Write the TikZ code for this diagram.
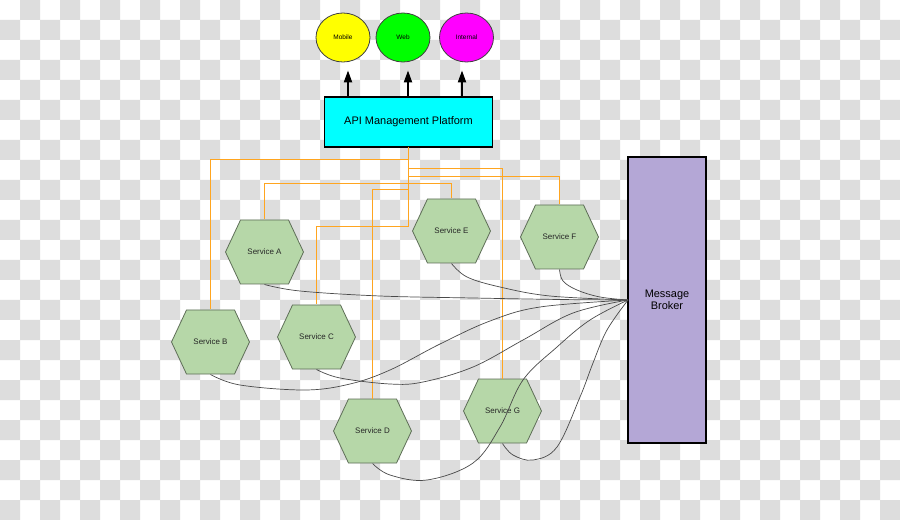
\documentclass[tikz,border=0pt]{standalone}
\usepackage{fontspec}
\setmainfont{Liberation Sans}
\usetikzlibrary{arrows.meta,shapes.geometric}
\definecolor{bgray}{HTML}{DDDDDD}
\definecolor{hexfill}{HTML}{B6D7A8}
\definecolor{hexline}{HTML}{5E6E57}
\definecolor{orl}{HTML}{FFA51F}
\definecolor{brokerfill}{HTML}{B4A7D6}
\definecolor{curvec}{HTML}{4A4A4A}
\definecolor{cyanfill}{HTML}{00FFFF}
\definecolor{yellowfill}{HTML}{FFFF00}
\definecolor{greenfill}{HTML}{00FF00}
\definecolor{magentafill}{HTML}{FF00FF}
\begin{document}
\begin{tikzpicture}[x=1bp,y=-1bp,
  svc/.style={minimum width=80bp, minimum height=65bp, inner sep=0pt, outer sep=0pt,
    font=\fontsize{8}{9}\selectfont, text=black!85,
    path picture={\draw[hexline, line width=0.8bp, fill=hexfill]
      ([xshift=-39bp]path picture bounding box.center)
      -- ([xshift=-24bp,yshift=32bp]path picture bounding box.center)
      -- ([xshift=24bp,yshift=32bp]path picture bounding box.center)
      -- ([xshift=39bp]path picture bounding box.center)
      -- ([xshift=24bp,yshift=-32bp]path picture bounding box.center)
      -- ([xshift=-24bp,yshift=-32bp]path picture bounding box.center)
      -- cycle;}},
  client/.style={ellipse, draw=black!75, line width=0.8bp, minimum width=54bp,
    minimum height=49bp, inner sep=0pt, font=\fontsize{6.5}{7}\selectfont},
  boxnode/.style={draw=black, line width=1.6bp, inner sep=0pt, outer sep=0pt},
  arr/.style={line width=2bp, -{Triangle[width=8bp,length=12bp]}, shorten >=8bp},
  orline/.style={draw=orl, line width=1.4bp},
  bus/.style={draw=curvec, line width=0.7bp}
]
\useasboundingbox (0,0) rectangle (900,520);
% transparency checkerboard of the reference
\fill[white] (0,0) rectangle (900,520);
\fill[bgray] \foreach \j in {0,...,25}{
  \foreach \i in {0,...,44}{
    \ifodd\numexpr\i+\j\relax ({\i*20},{\j*20}) rectangle ++(20,20) \fi
  }
};

% clients
\node[client, fill=yellowfill] (mob) at (343,37.5) {Mobile};
\node[client, fill=greenfill] (web) at (403,37.5) {Web};
\node[client, fill=magentafill] (int) at (466.5,37.5) {Internal};

% API platform
\node[boxnode, fill=cyanfill, minimum width=168bp, minimum height=50bp,
  font=\fontsize{11}{13}\selectfont] (api) at (408.5,122) {API Management Platform};

% message broker
\node[boxnode, fill=brokerfill, minimum width=78bp, minimum height=286bp,
  align=center, font=\fontsize{11}{12.5}\selectfont] (br) at (667,300) {Message\\Broker};

% services
\node[svc] (A) at (264.5,252) {Service A};
\node[svc] (E) at (451.5,231) {Service E};
\node[svc] (F) at (559.5,237) {Service F};
\node[svc] (B) at (210.5,342) {Service B};
\node[svc] (C) at (316.5,337) {Service C};
\node[svc] (D) at (372.5,431) {Service D};
\node[svc] (G) at (502.5,411) {Service G};

% arrows to clients
\draw[arr] ([xshift=5bp]mob.south |- api.north) -- ([xshift=5bp]mob.south);
\draw[arr] ([xshift=5bp]web.south |- api.north) -- ([xshift=5bp]web.south);
\draw[arr] ([xshift=-4.5bp]int.south |- api.north) -- ([xshift=-4.5bp]int.south);

% orange API links
\draw[orline] (api.south) -- ++(0,12.5) -| (B.north);
\draw[orline] (api.south) -- ++(0,21.5) -| (G.north);
\draw[orline] (api.south) -- ++(0,29.5) -| (F.north);
\draw[orline] (A.north) |- ([yshift=-36.5bp]api.south) -| (E.north);
\draw[orline] (api.south) -- ++(0,42.5) -| (D.north);
\draw[orline] (api.south) -- ++(0,79.5) -| (C.north);

% message bus curves
\coordinate (bw) at (br.west);
\draw[bus] plot[smooth, tension=0.6] coordinates
  {(A.south) (300,291) (380,296) (473,298) (560,299.5) (bw)};
\draw[bus] plot[smooth, tension=0.6] coordinates
  {(E.south) (467,277) (500,287) (550,296) (bw)};
\draw[bus] plot[smooth, tension=0.6] coordinates
  {(F.south) (563,281) (577,290) (600,297) (bw)};
\draw[bus] plot[smooth, tension=0.6] coordinates
  {(B.south) (240,385) (305,390) (350,384) (390,370) (440,344) (490,321) (540,307) (bw)};
\draw[bus] plot[smooth, tension=0.6] coordinates
  {(C.south) (340,378) (390,384) (423,382) (473,367) (523,340) (573,313) (bw)};
\draw[bus] plot[smooth, tension=0.6] coordinates
  {(D.south) (390,475) (427,480) (473,463) (500,427) (523,380) (557,347) (590,320) (bw)};
\draw[bus] plot[smooth, tension=0.6] coordinates
  {(G.south) (513,455) (533,460) (557,447) (580,397) (593,363) (607,330) (bw)};
\end{tikzpicture}
\end{document}
